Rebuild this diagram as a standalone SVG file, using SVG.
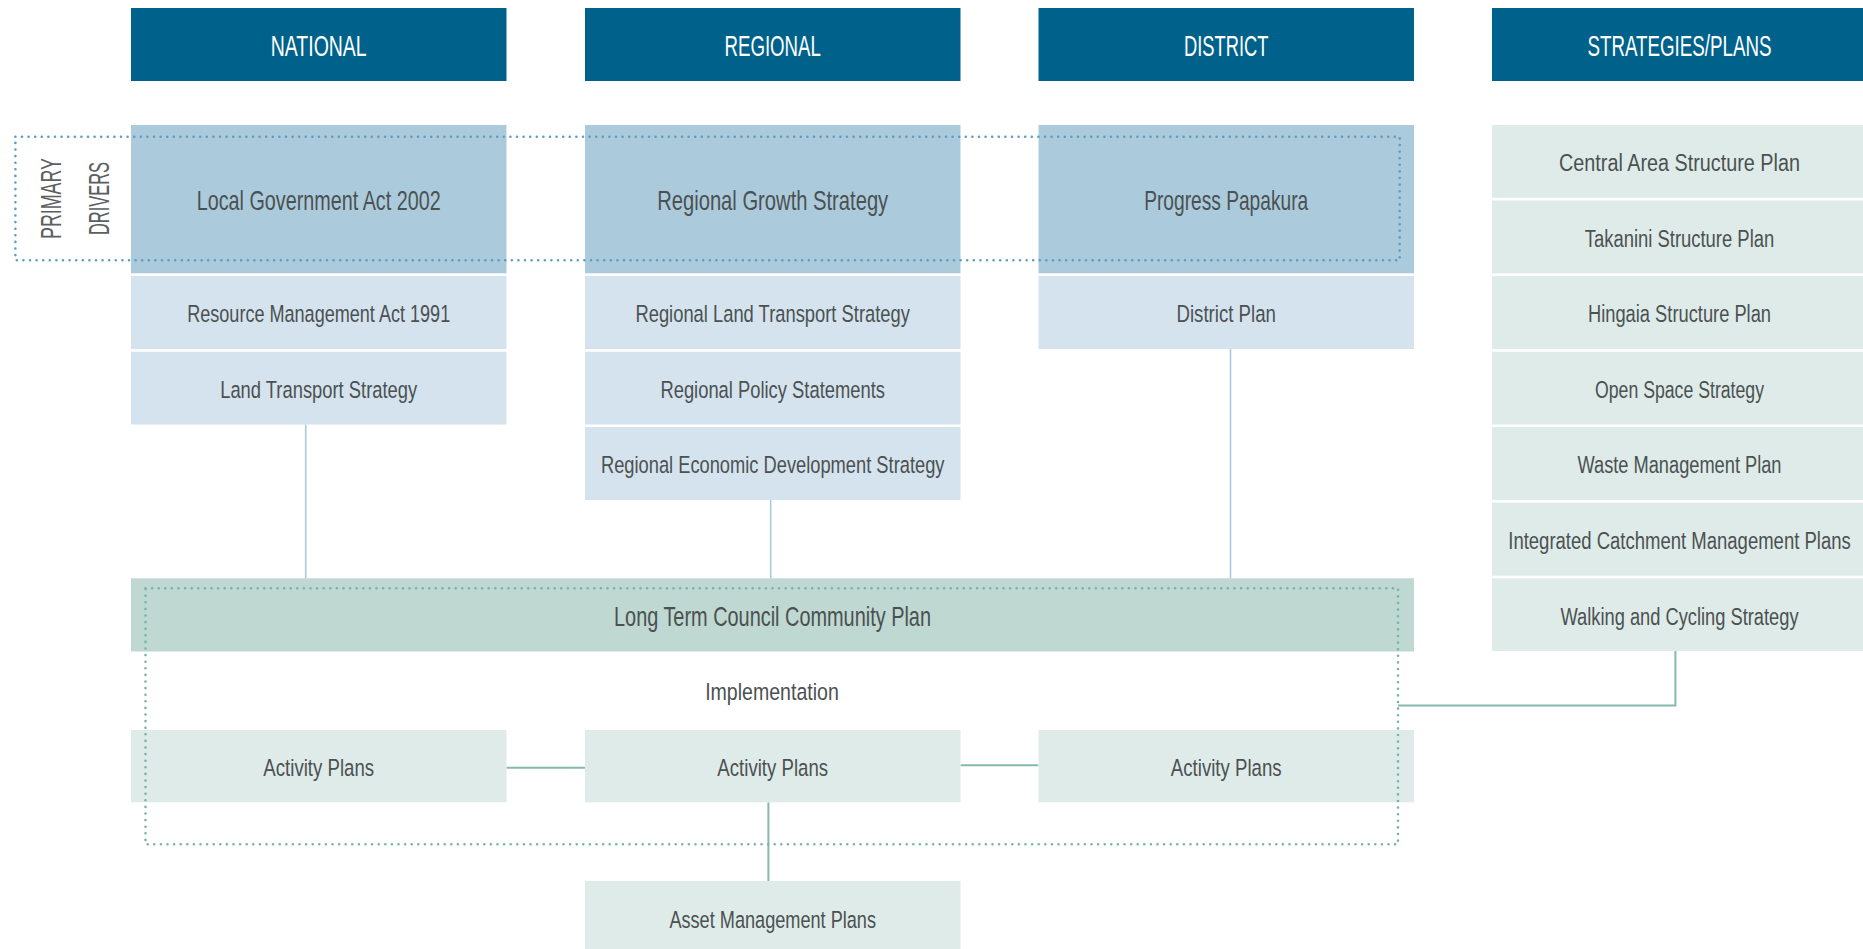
<svg xmlns="http://www.w3.org/2000/svg" width="1863" height="949" viewBox="0 0 1863 949">
<style>
.hdr{fill:#00628b}
.pri{fill:#abcbdd}
.sec{fill:#d5e3ee}
.str{fill:#dfebe9}
.lt{fill:#bfd8d2}
text{font-family:"Liberation Sans",Arial,sans-serif;text-anchor:middle;fill:#4b5151}
.ht{fill:#ffffff;font-size:29px}
.pt{font-size:28px}
.bt{font-size:24.5px}
.vt{font-size:30px;fill:#5a6060}
.conb{stroke:#a9c9dc;stroke-width:1.6;fill:none}
.cong{stroke:#86b8ad;stroke-width:2;fill:none}
.dotb{fill:none;stroke:#5c9dc0;stroke-width:2.6;stroke-dasharray:0 6.6;stroke-linecap:round}
.dotg{fill:none;stroke:#7ab3a6;stroke-width:2.6;stroke-dasharray:0 6.6;stroke-linecap:round}
</style>
<rect width="1863" height="949" fill="#ffffff"/>

<g id="headers">
<g id="h-national"><rect class="hdr" x="131" y="8" width="375.5" height="73"/><text class="ht" x="318.7" y="56" textLength="96" lengthAdjust="spacingAndGlyphs">NATIONAL</text></g>
<g id="h-regional"><rect class="hdr" x="585" y="8" width="375.5" height="73"/><text class="ht" x="772.7" y="56" textLength="96.5" lengthAdjust="spacingAndGlyphs">REGIONAL</text></g>
<g id="h-district"><rect class="hdr" x="1038.5" y="8" width="375.5" height="73"/><text class="ht" x="1226.2" y="56" textLength="84.5" lengthAdjust="spacingAndGlyphs">DISTRICT</text></g>
<g id="h-strategies"><rect class="hdr" x="1492" y="8" width="376" height="73"/><text class="ht" transform="translate(1679.5,56) scale(0.66,1)" x="0" y="0" textLength="278.8" lengthAdjust="spacingAndGlyphs">STRATEGIES/PLANS</text></g>
</g>

<g id="connectors">
<line class="conb" x1="305.7" y1="424.5" x2="305.7" y2="578.3"/>
<line class="conb" x1="770.7" y1="500" x2="770.7" y2="578.3"/>
<line class="conb" x1="1230.5" y1="349" x2="1230.5" y2="578.3"/>
<line class="cong" x1="506.5" y1="767.7" x2="585" y2="767.7"/>
<line class="cong" x1="960.5" y1="765.3" x2="1038.5" y2="765.3"/>
<line class="cong" x1="768.4" y1="802.3" x2="768.4" y2="881"/>
<polyline class="cong" points="1675.4,651 1675.4,705.5 1398,705.5"/>
</g>

<g id="n-lga"><rect class="pri" x="131" y="125" width="375.5" height="148.3"/><text class="pt" x="318.7" y="209.5" textLength="244" lengthAdjust="spacingAndGlyphs">Local Government Act 2002</text></g>
<g id="n-rgs"><rect class="pri" x="585" y="125" width="375.5" height="148.3"/><text class="pt" x="772.7" y="209.5" textLength="231" lengthAdjust="spacingAndGlyphs">Regional Growth Strategy</text></g>
<g id="n-pp"><rect class="pri" x="1038.5" y="125" width="375.5" height="148.3"/><text class="pt" x="1226.2" y="209.5" textLength="164" lengthAdjust="spacingAndGlyphs">Progress Papakura</text></g>

<g id="n-rma"><rect class="sec" x="131" y="276" width="375.5" height="73"/><text class="bt" x="318.7" y="322" textLength="263" lengthAdjust="spacingAndGlyphs">Resource Management Act 1991</text></g>
<g id="n-lts"><rect class="sec" x="131" y="351.7" width="375.5" height="72.8"/><text class="bt" x="318.7" y="397.5" textLength="197" lengthAdjust="spacingAndGlyphs">Land Transport Strategy</text></g>
<g id="n-rlts"><rect class="sec" x="585" y="276" width="375.5" height="73"/><text class="bt" x="772.7" y="322" textLength="274.5" lengthAdjust="spacingAndGlyphs">Regional Land Transport Strategy</text></g>
<g id="n-rps"><rect class="sec" x="585" y="351.7" width="375.5" height="72.8"/><text class="bt" x="772.7" y="397.5" textLength="224.5" lengthAdjust="spacingAndGlyphs">Regional Policy Statements</text></g>
<g id="n-reds"><rect class="sec" x="585" y="427" width="375.5" height="73"/><text class="bt" x="772.7" y="473" textLength="343.5" lengthAdjust="spacingAndGlyphs">Regional Economic Development Strategy</text></g>
<g id="n-dp"><rect class="sec" x="1038.5" y="276" width="375.5" height="73"/><text class="bt" x="1226.2" y="322" textLength="99.5" lengthAdjust="spacingAndGlyphs">District Plan</text></g>

<g id="n-casp"><rect class="str" x="1492" y="125" width="376" height="72.8"/><text class="bt" transform="translate(1679.5,171) scale(0.72,1)" x="0" y="0" textLength="334.7" lengthAdjust="spacingAndGlyphs">Central Area Structure Plan</text></g>
<g id="n-tsp"><rect class="str" x="1492" y="200.5" width="376" height="72.8"/><text class="bt" transform="translate(1679.5,246.5) scale(0.72,1)" x="0" y="0" textLength="263.2" lengthAdjust="spacingAndGlyphs">Takanini Structure Plan</text></g>
<g id="n-hsp"><rect class="str" x="1492" y="276" width="376" height="73"/><text class="bt" transform="translate(1679.5,322) scale(0.72,1)" x="0" y="0" textLength="254.2" lengthAdjust="spacingAndGlyphs">Hingaia Structure Plan</text></g>
<g id="n-oss"><rect class="str" x="1492" y="351.7" width="376" height="72.8"/><text class="bt" transform="translate(1679.5,397.5) scale(0.72,1)" x="0" y="0" textLength="234.7" lengthAdjust="spacingAndGlyphs">Open Space Strategy</text></g>
<g id="n-wmp"><rect class="str" x="1492" y="427" width="376" height="73"/><text class="bt" transform="translate(1679.5,473) scale(0.72,1)" x="0" y="0" textLength="283.3" lengthAdjust="spacingAndGlyphs">Waste Management Plan</text></g>
<g id="n-icmp"><rect class="str" x="1492" y="502.7" width="376" height="73"/><text class="bt" transform="translate(1679.5,548.5) scale(0.72,1)" x="0" y="0" textLength="475.7" lengthAdjust="spacingAndGlyphs">Integrated Catchment Management Plans</text></g>
<g id="n-wcs"><rect class="str" x="1492" y="578.3" width="376" height="72.7"/><text class="bt" transform="translate(1679.5,624.5) scale(0.72,1)" x="0" y="0" textLength="330.6" lengthAdjust="spacingAndGlyphs">Walking and Cycling Strategy</text></g>

<g id="n-ltccp"><rect class="lt" x="131" y="578.3" width="1283" height="73.2"/><text class="pt" x="772.5" y="626" textLength="317" lengthAdjust="spacingAndGlyphs">Long Term Council Community Plan</text></g>
<g id="n-impl"><text class="bt" x="772" y="699.5" textLength="133.7" lengthAdjust="spacingAndGlyphs">Implementation</text></g>
<g id="n-ap1"><rect class="str" x="131" y="730" width="375.5" height="72.3"/><text class="bt" x="318.7" y="776" textLength="110.7" lengthAdjust="spacingAndGlyphs">Activity Plans</text></g>
<g id="n-ap2"><rect class="str" x="585" y="730" width="375.5" height="72.3"/><text class="bt" x="772.7" y="776" textLength="110.7" lengthAdjust="spacingAndGlyphs">Activity Plans</text></g>
<g id="n-ap3"><rect class="str" x="1038.5" y="730" width="375.5" height="72.3"/><text class="bt" x="1226.2" y="776" textLength="110.7" lengthAdjust="spacingAndGlyphs">Activity Plans</text></g>
<g id="n-amp"><rect class="str" x="585" y="881" width="375.5" height="73"/><text class="bt" x="772.7" y="927.5" textLength="206.6" lengthAdjust="spacingAndGlyphs">Asset Management Plans</text></g>

<g id="primary-drivers">
<rect class="dotb" x="15.4" y="136.7" width="1384.3" height="123.6"/>
<text class="vt" transform="translate(61.3,198.5) rotate(-90)" textLength="81" lengthAdjust="spacingAndGlyphs">PRIMARY</text>
<text class="vt" transform="translate(108.7,198.5) rotate(-90)" textLength="73" lengthAdjust="spacingAndGlyphs">DRIVERS</text>
</g>
<g id="implementation-frame">
<rect class="dotg" x="145.5" y="588.3" width="1252.5" height="256"/>
</g>
</svg>
